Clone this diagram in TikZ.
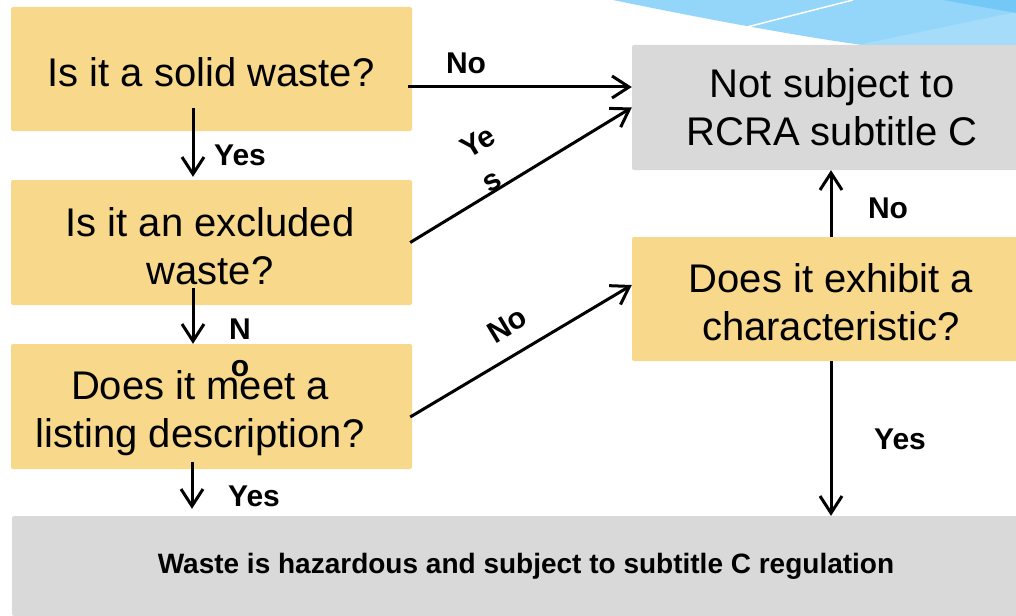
\documentclass[tikz,border=0pt]{standalone}
\usepackage{fontspec}
\setmainfont{Liberation Sans}
\usetikzlibrary{arrows.meta}
\definecolor{boxyellow}{RGB}{248,217,140}
\definecolor{boxgray}{RGB}{217,217,217}
\definecolor{blueA}{RGB}{148,214,250}
\definecolor{blueB}{RGB}{164,220,250}
\definecolor{blueC}{RGB}{115,200,246}
\begin{document}
\begin{tikzpicture}[x=1pt,y=-1pt,
  qbox/.style={fill=boxyellow, rounded corners=2pt, inner sep=0pt},
  gbox/.style={fill=boxgray, rounded corners=2pt, inner sep=0pt},
  qtext/.style={inner sep=0pt, align=center, font=\fontsize{40}{48}\selectfont},
  arr/.style={line width=3pt, -{Straight Barb[length=17pt,width=22pt]}},
  lbl/.style={font=\fontsize{30}{36}\selectfont\bfseries, inner sep=0pt}]
\useasboundingbox (0,0) rectangle (1016,615);
% decorative swoosh
\fill[blueA] (613,0) .. controls (680,14) and (800,37) .. (870,46) -- (1016,46) -- (1016,0) -- cycle;
\fill[blueB] (853,46) -- (1016,12) -- (1016,46) -- cycle;
\fill[blueC] (943,0) -- (1016,13) -- (1016,0) -- cycle;
\draw[white, line width=1.5pt] (747,27) -- (853,0);
% boxes
\node[qbox, minimum width=401pt, minimum height=124pt] (b1) at (211.5,69) {};
\node[qtext] (b1t) at (211,72) {Is it a solid waste?};
\node[qbox, minimum width=401pt, minimum height=125pt] (b2) at (211.5,242.5) {};
\node[qtext] (b2t) at (210,246) {Is it an excluded\\waste?};
\node[qbox, minimum width=401pt, minimum height=125pt] (b3) at (211.5,406.5) {};
\node[qtext] (b3t) at (200,413.5) {Does it meet a\\listing description?};
\node[gbox, minimum width=398pt, minimum height=125pt] (ns) at (831,107.5) {};
\node[qtext] (nst) at (832,107.5) {Not subject to\\RCRA subtitle C};
\node[qbox, minimum width=398pt, minimum height=124pt] (ch) at (831,299) {};
\node[qtext] (cht) at (831,302) {Does it exhibit a\\characteristic?};
\node[gbox, font=\fontsize{28}{34}\selectfont\bfseries, minimum width=1028pt, minimum height=100pt] (bt) at (526,566) {Waste is hazardous and subject to subtitle C regulation};
% arrows
\draw[arr] ([shift={(-4,18)}]b1.east) -- ([shift={(0,-20.5)}]ns.west);
\draw[arr] ([shift={(-18.5,-23)}]b1.south) -- ([shift={(-18.5,-3)}]b2.north);
\draw[arr] ([shift={(-2,0)}]b2.east) -- (ns.west);
\draw[arr] ([shift={(-18.5,-17)}]b2.south) -- ([shift={(-18.5,0)}]b3.north);
\draw[arr] ([shift={(-2,10.5)}]b3.east) -- ([shift={(0,-14)}]ch.west);
\draw[arr] (ch.north) -- (ns.south);
\draw[arr] ([shift={(-19.5,-7)}]b3.south) -- ([shift={(-19.5,-7)}]b3.south |- bt.north);
\draw[arr] (ch.south) -- (ch.south |- bt.north);
% labels
\node[lbl] (l1) at (466,63) {No};
\node[lbl] (l2) at (240,155) {Yes};
\node[lbl, rotate=31] (l3a) at (478,142) {Ye};
\node[lbl, rotate=31] (l3b) at (493,182) {s};
\node[lbl] (l4a) at (240,329) {N};
\node[lbl] (l4b) at (240,369) {o};
\node[lbl, rotate=31] (l5) at (507,325) {No};
\node[lbl] (l6) at (888,208) {No};
\node[lbl] (l7) at (254,496) {Yes};
\node[lbl] (l8) at (900,439) {Yes};
\end{tikzpicture}
\end{document}
